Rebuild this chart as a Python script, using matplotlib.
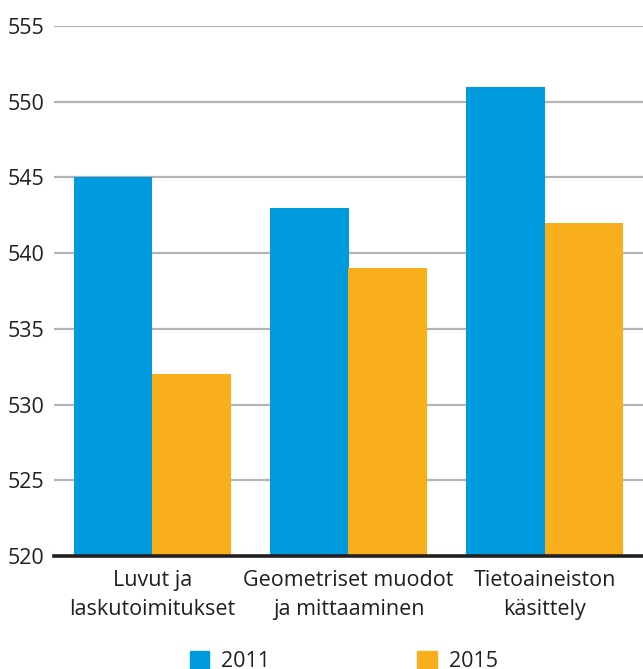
import matplotlib
matplotlib.use("Agg")
import matplotlib.pyplot as plt
import matplotlib.patches as mpatches
import numpy as np

categories = ["Luvut ja\nlaskutoimitukset", "Geometriset muodot\nja mittaaminen", "Tietoaineiston\nkäsittely"]
years = ["2011", "2015"]
values_2011 = [545, 543, 551]
values_2015 = [532, 539, 542]
yticks = [520, 525, 530, 535, 540, 545, 550, 555]

blue = "#009ADE"
orange = "#F9AF1C"
text_color = "#231F20"
grid_color = "#B4B4B4"

plt.rcParams["font.family"] = ["Open Sans", "DejaVu Sans"]
plt.rcParams["font.size"] = 15.5

fig = plt.figure(figsize=(6.43, 6.69), dpi=100)
ax = fig.add_axes([54/643, 1 - 556/669, 1 - 54/643, 530/669])

x = np.arange(len(categories))
w = 0.4
ax.bar(x - w/2, values_2011, width=w, color=blue, zorder=3)
ax.bar(x + w/2, values_2015, width=w, color=orange, zorder=3)

ax.set_xlim(-0.5, 2.5)
ax.set_ylim(520, 555)
ax.set_yticks(yticks)
ax.set_yticklabels([str(v) for v in yticks], color=text_color)
ax.set_xticks(x)
ax.set_xticklabels(categories, color=text_color, linespacing=1.5)
ax.tick_params(axis="y", length=0, pad=7)
ax.tick_params(axis="x", length=0, pad=10)
ax.yaxis.grid(True, color=grid_color, linewidth=1.6, zorder=0)
for s in ["top", "right", "left"]:
    ax.spines[s].set_visible(False)
ax.spines["bottom"].set_linewidth(2.6)
ax.spines["bottom"].set_color(text_color)
ax.spines["bottom"].set_zorder(4)

handles = [mpatches.Patch(color=blue, label=years[0]),
           mpatches.Patch(color=orange, label=years[1])]
fig.legend(handles=handles, loc="upper left", bbox_to_anchor=(179/643, 1 - 640/669),
           ncol=2, frameon=False, borderpad=0, handlelength=0.9, handleheight=0.9,
           handletextpad=0.55, columnspacing=6.85, labelcolor=text_color)

fig.savefig("out.png", dpi=100)
